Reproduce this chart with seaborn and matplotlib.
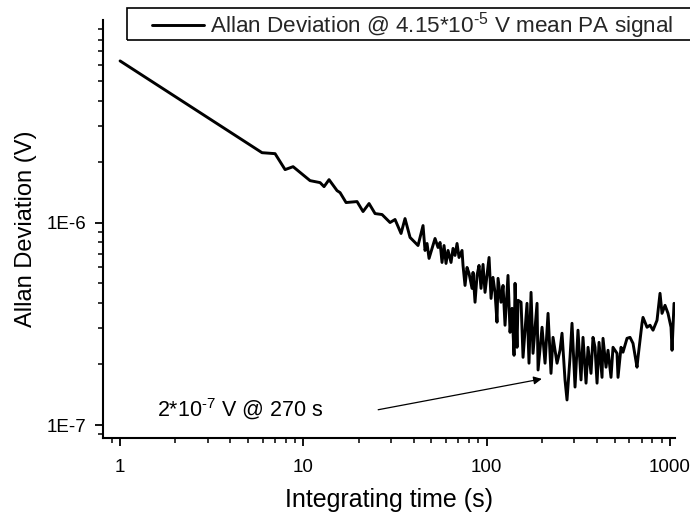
import numpy as np
import pandas as pd
import matplotlib
matplotlib.use("Agg")
import matplotlib.pyplot as plt
import matplotlib.ticker as mticker
from matplotlib.patches import Rectangle
import seaborn as sns

# ---------------- data (tau in s, deviation in 1e-7 V) ----------------
tau = [1.0, 5.95, 7.01, 7.95, 8.79, 10.88, 12.34, 12.97, 13.81, 15.27,
       15.86, 17.10, 19.63, 21.17, 22.83, 24.62, 26.88, 29.72, 31.64, 34.12,
       35.87, 38.21, 40.68, 42.24, 44.98, 46.12, 47.30, 48.51, 52.30, 54.31,
       55.70, 57.10, 58.56, 60.04, 61.58, 63.93, 65.56, 67.22, 68.95, 70.70,
       73.41, 74.33, 76.23, 78.17, 80.17, 83.24, 84.30, 86.44, 88.64, 90.89,
       93.20, 95.58, 98.00, 100.5, 103.1, 105.7, 108.3, 111.1, 113.9, 115.4,
       119.8, 122.9, 126.0, 130.8, 134.2, 137.6, 141.1, 142.9, 146.5, 148.4,
       154.1, 158.0, 166.1, 170.3, 174.7, 179.1, 188.4, 190.8, 200.6, 208.3,
       216.3, 224.5, 230.3, 242.2, 251.4, 257.8, 267.7, 274.5, 285.1, 292.3,
       303.6, 315.1, 327.3, 335.6, 348.6, 357.5, 371.1, 380.5, 390.3, 400.3,
       410.5, 426.2, 431.5, 448.1, 459.5, 477.1, 489.3, 514.5, 521.0, 541.0,
       554.7, 583.4, 605.8, 629.1, 661.4, 669.9, 704.3, 713.2, 750.1, 778.9,
       808.9, 850.5, 883.1, 905.6, 940.4, 976.3, 1014, 1027, 1053]
dev_e7 = [62.8, 22.12, 21.88, 18.25, 18.87, 16.10, 15.74, 15.04, 16.28, 14.37,
          14.05, 12.55, 12.69, 11.33, 12.41, 11.07, 10.95, 10.0, 10.35, 8.83,
          10.46, 8.44, 7.97, 7.70, 9.66, 7.28, 7.88, 6.65, 8.34, 7.53,
          7.97, 6.35, 7.70, 6.28, 7.28, 6.35, 7.45, 6.88, 7.88, 6.72,
          7.28, 6.14, 4.89, 6.00, 5.61, 4.73, 5.67, 4.04, 5.48, 6.14,
          4.73, 6.21, 4.52, 5.48, 6.72, 4.22, 5.36, 4.52, 3.22, 5.30,
          4.04, 4.89, 3.11, 5.48, 2.87, 3.77, 2.21, 5.01, 2.42, 4.13,
          4.04, 2.16, 3.99, 2.02, 4.52, 2.26, 3.99, 1.87, 3.04, 2.02,
          3.56, 1.80, 2.71, 2.02, 2.34, 2.84, 1.67, 1.33, 2.16, 3.18,
          1.54, 2.94, 1.67, 2.71, 1.61, 2.42, 1.80, 2.71, 2.42, 1.61,
          2.56, 1.72, 2.68, 1.93, 2.34, 1.72, 2.42, 2.26, 1.72, 2.42,
          2.29, 2.68, 2.71, 2.53, 1.93, 2.16, 3.18, 3.40, 3.04, 3.11,
          2.94, 3.29, 4.47, 3.56, 3.90, 3.56, 3.04, 2.34, 3.99]

legend_label = r"Allan Deviation @ 4.15*10$^{\text{-}5}$ V mean PA signal"
note_text = r"2*10$^{\text{-}7}$ V @ 270 s"
note_tail = (25.6, 1.19e-7)
note_head = (200.0, 1.69e-7)

df = pd.DataFrame({"tau": tau, "dev": np.array(dev_e7) * 1e-7})

# ---------------- plot ----------------
sns.set_theme(style="ticks")
plt.rcParams["font.family"] = ["Liberation Sans", "DejaVu Sans"]
plt.rcParams["mathtext.default"] = "regular"
plt.rcParams["mathtext.fontset"] = "custom"
plt.rcParams["mathtext.rm"] = "Liberation Sans"

fig = plt.figure(figsize=(6.9, 5.14), dpi=100)
ax = fig.add_axes([103 / 690, 1 - 438 / 514, (675 - 103) / 690, (438 - 20) / 514])

sns.lineplot(data=df, x="tau", y="dev", color="black", linewidth=2.1,
             estimator=None, sort=False, label=legend_label, ax=ax)

ax.set_xscale("log")
ax.set_yscale("log")
ax.set_xlim(0.807, 1066)
ax.set_ylim(8.63e-8, 1.0e-5)

ax.xaxis.set_major_locator(mticker.FixedLocator([1, 10, 100, 1000]))
ax.xaxis.set_major_formatter(mticker.FixedFormatter(["1", "10", "100", "1000"]))
ax.xaxis.set_minor_locator(mticker.LogLocator(base=10, subs=np.arange(2, 10), numticks=20))
ax.xaxis.set_minor_formatter(mticker.NullFormatter())
ax.yaxis.set_major_locator(mticker.FixedLocator([1e-7, 1e-6]))
ax.yaxis.set_major_formatter(mticker.FixedFormatter(["1E-7", "1E-6"]))
ax.yaxis.set_minor_locator(mticker.LogLocator(base=10, subs=np.arange(2, 10), numticks=20))
ax.yaxis.set_minor_formatter(mticker.NullFormatter())

ax.tick_params(which="major", direction="out", length=6, width=1.3, labelsize=13.5,
               color="black", labelcolor="black")
ax.tick_params(which="minor", direction="out", length=3.5, width=1.1, color="black")
ax.tick_params(axis="x", which="major", pad=9)
ax.tick_params(axis="y", which="major", pad=6)

sns.despine(ax=ax)
for s in ["left", "bottom"]:
    ax.spines[s].set_linewidth(1.5)
    ax.spines[s].set_color("black")

ax.set_xlabel("Integrating time (s)", fontsize=18, labelpad=9, color="black")
ax.set_ylabel("Allan Deviation (V)", fontsize=17, labelpad=7, color="black")

# legend (frame drawn separately so it runs off the right edge like the original)
leg = ax.legend(loc="center left", bbox_to_anchor=(150 / 690, 1 - 26 / 514),
                bbox_transform=fig.transFigure, frameon=False, fontsize=16.2,
                handlelength=2.3, handletextpad=0.25, borderpad=0.1, borderaxespad=0)
fig.patches.append(Rectangle((127 / 690, 1 - 40 / 514), 0.9, 32 / 514,
                             transform=fig.transFigure, fill=False,
                             edgecolor="black", linewidth=1.2))

ax.annotate("", xy=note_head, xytext=note_tail,
            arrowprops=dict(arrowstyle="-|>", color="black", lw=0.9,
                            mutation_scale=12, shrinkA=0, shrinkB=0))
ax.text(1.59, 1.2e-7, note_text, fontsize=15.5, ha="left", va="center", color="black")

fig.savefig("out.png", dpi=100)
